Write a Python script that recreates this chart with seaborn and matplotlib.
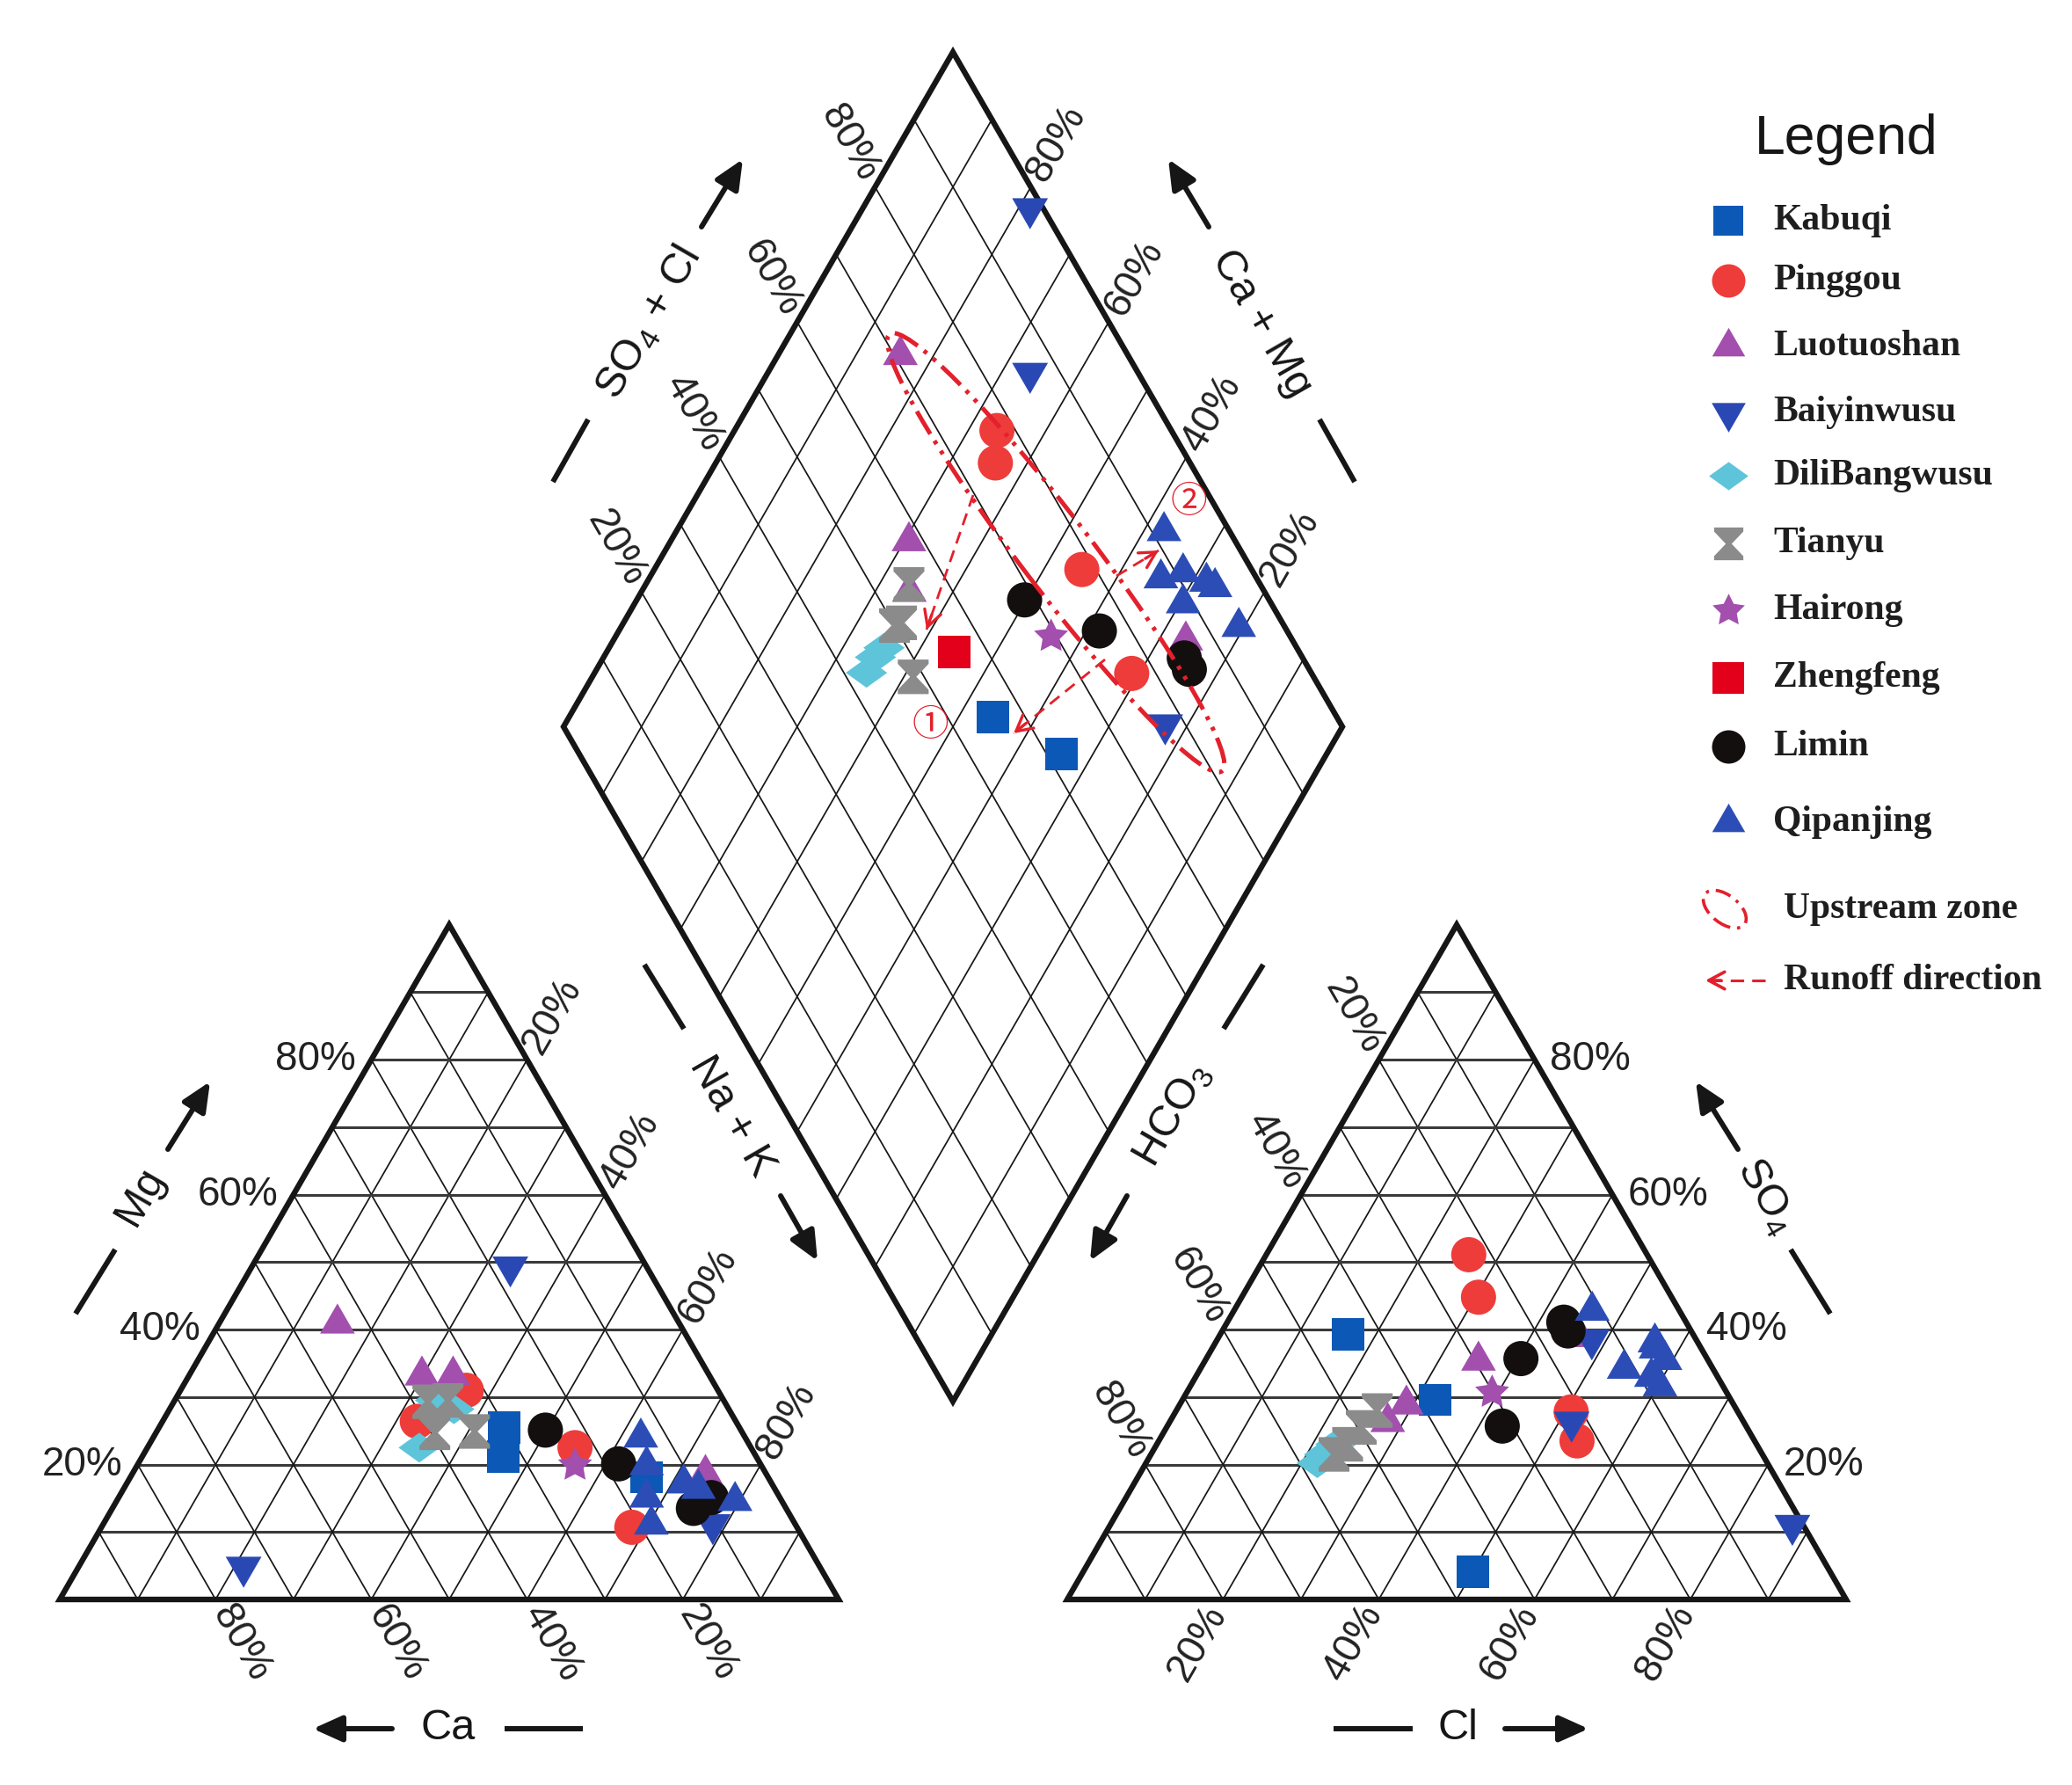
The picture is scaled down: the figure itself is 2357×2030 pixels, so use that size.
import numpy as np
import pandas as pd
import matplotlib
matplotlib.use("Agg")
import matplotlib.pyplot as plt
from matplotlib.path import Path
from matplotlib.patches import Ellipse, FancyArrowPatch
import seaborn as sns

# ---------------------------------------------------------------- data
groups = ["Kabuqi", "Pinggou", "Luotuoshan", "Baiyinwusu", "DiliBangwusu",
          "Tianyu", "Hairong", "Zhengfeng", "Limin", "Qipanjing"]

# cation triangle (percent of meq)
cation_site = (["Kabuqi"] * 3 + ["Pinggou"] * 4 + ["Luotuoshan"] * 4 + ["Baiyinwusu"] * 3
               + ["DiliBangwusu"] * 3 + ["Tianyu"] * 4 + ["Hairong"] * 1
               + ["Limin"] * 4 + ["Qipanjing"] * 7)
cation_mg = [25.5, 21.2, 18.1,
             31.0, 26.4, 22.5, 10.7,
             40.9, 33.2, 33.2, 18.6,
             49.3, 4.8, 11.1,
             28.2, 22.5, 29.5,
             29.3, 29.5, 24.7, 24.9,
             19.9,
             25.1, 20.1, 13.5, 15.1,
             24.0, 19.9, 15.1, 11.1, 17.2, 16.4, 14.6]
cation_nak = [44.3, 46.3, 66.3,
              36.7, 32.7, 54.9, 68.1,
              15.2, 29.9, 33.9, 73.6,
              33.2, 21.2, 78.3,
              36.5, 34.9, 33.5,
              32.6, 35.1, 35.8, 40.8,
              56.2,
              49.8, 61.7, 74.6, 76.1,
              62.6, 65.4, 67.8, 70.4, 71.5, 73.8, 79.4]

# anion triangle (percent of meq)
anion_site = list(cation_site)
anion_so4 = [39.3, 29.6, 4.1,
             51.1, 44.8, 27.8, 23.5,
             35.4, 28.9, 26.3, 38.9,
             26.3, 38.5, 11.0,
             21.5, 23.0, 20.2,
             28.0, 25.5, 23.0, 21.5,
             30.7,
             41.1, 39.8, 35.7, 25.7,
             42.8, 38.1, 34.2, 31.6, 35.5, 37.2, 33.0]
anion_cl = [16.4, 32.4, 50.0,
            26.0, 30.4, 50.8, 53.7,
            35.1, 29.1, 28.0, 46.4,
            51.6, 48.1, 87.6,
            22.3, 23.0, 22.0,
            25.8, 25.0, 24.5, 23.5,
            39.2,
            43.2, 44.4, 40.4, 43.0,
            46.0, 56.4, 54.4, 60.3, 59.0, 57.0, 58.5]

# central diamond (SO4+Cl %, Ca+Mg %)
diamond_site = (["Kabuqi"] * 2 + ["Pinggou"] * 4 + ["Luotuoshan"] * 4 + ["Baiyinwusu"] * 3
                + ["DiliBangwusu"] * 3 + ["Tianyu"] * 4 + ["Hairong"] + ["Zhengfeng"]
                + ["Limin"] * 4 + ["Qipanjing"] * 7)
diamond_so4cl = [55.8, 61.9,
                 77.6, 75.0, 78.2, 76.9,
                 70.8, 58.1, 54.4, 86.3,
                 98.3, 86.1, 77.4,
                 42.9, 45.2, 47.0,
                 54.9, 51.1, 50.0, 48.6,
                 69.3,
                 55.7,
                 68.6, 75.9, 84.8, 84.6,
                 91.6, 87.7, 91.0, 93.3, 94.0, 88.7, 94.1]
diamond_camg = [45.6, 34.1,
                66.3, 64.1, 45.1, 31.0,
                84.3, 69.4, 65.6, 26.5,
                78.5, 66.3, 22.9,
                65.1, 65.1, 64.7,
                66.2, 64.3, 65.0, 58.8,
                44.1,
                55.4,
                50.2, 38.3, 25.4, 23.9,
                37.4, 34.3, 31.9, 28.2, 26.7, 29.6, 20.7]

tick_values = [20, 40, 60, 80]

# ---------------------------------------------------------------- style
sns.set_theme(style="white")
plt.rcParams["font.family"] = ["Liberation Sans", "DejaVu Sans"]
plt.rcParams["mathtext.fontset"] = "custom"
plt.rcParams["mathtext.rm"] = "Liberation Sans"

RED = "#e3202b"
INK = "#161616"
colors = {"Kabuqi": "#0b58b6", "Pinggou": "#ee3c3a", "Luotuoshan": "#a24fae",
          "Baiyinwusu": "#2a48b4", "DiliBangwusu": "#5ec4da", "Tianyu": "#8b8b8b",
          "Hairong": "#a24fae", "Zhengfeng": "#e2001a", "Limin": "#130f0e",
          "Qipanjing": "#2c4db6"}
hourglass = Path([(-0.5, 0.56), (0.5, 0.56), (0.5, 0.42), (0.1, 0.0), (0.5, -0.42),
                  (0.5, -0.56), (-0.5, -0.56), (-0.5, -0.42), (-0.1, 0.0),
                  (-0.5, 0.42), (-0.5, 0.56)], closed=True)
flat_diamond = Path([(-1, 0), (0, 0.72), (1, 0), (0, -0.72), (-1, 0)], closed=True)
markers = {"Kabuqi": "s", "Pinggou": "o", "Luotuoshan": (3, 0, 0),
           "Baiyinwusu": (3, 0, 180), "DiliBangwusu": flat_diamond,
           "Tianyu": hourglass, "Hairong": (5, 1, 0), "Zhengfeng": "s",
           "Limin": "o", "Qipanjing": (3, 0, 0)}
sizes = {"Kabuqi": 700, "Pinggou": 830, "Luotuoshan": 1080, "Baiyinwusu": 1150,
         "DiliBangwusu": 1150, "Tianyu": 800, "Hairong": 860, "Zhengfeng": 720,
         "Limin": 830, "Qipanjing": 1080}

# ---------------------------------------------------------------- geometry
H = np.sqrt(3) / 2
GAP = 0.2935
X0R = 1 + GAP                       # left corner of anion triangle
BX, BY = 1 + GAP / 2, GAP * H       # bottom corner of diamond


def P(px, py):
    """layout helper: reference pixel position -> axes data units"""
    return np.array([(px - 68) / 886.0, (1819 - py) / 886.0])


def cation_xy(mg, nak):
    mg, nak = np.asarray(mg) / 100, np.asarray(nak) / 100
    return nak + mg / 2, mg * H


def anion_xy(so4, cl):
    so4, cl = np.asarray(so4) / 100, np.asarray(cl) / 100
    return X0R + cl + so4 / 2, so4 * H


def diamond_xy(a, camg):
    a, camg = np.asarray(a) / 100, np.asarray(camg) / 100
    return BX + 0.5 * (a - camg), BY + H * (a + camg)


fig = plt.figure(figsize=(23.57, 20.30), dpi=100)
ax = fig.add_axes([0, 0, 1, 1])
ax.set_xlim(P(0, 0)[0], P(2357, 0)[0])
ax.set_ylim(P(0, 2030)[1], P(0, 0)[1])
ax.axis("off")

OUT_LW = 4.6
GRID_LW = 1.25
HGRID_LW = 2.2


def seg(p, q, **kw):
    ax.plot([p[0], q[0]], [p[1], q[1]], **kw)


def triangle(x0):
    A, B, C = np.array([x0, 0.0]), np.array([x0 + 1, 0.0]), np.array([x0 + 0.5, H])
    for i in range(1, 10):
        t = i / 10
        seg(A + t * (C - A), B + t * (C - B), color="#3a3a3a", lw=HGRID_LW, zorder=1)
        seg(A + t * (B - A), C + t * (B - C), color=INK, lw=GRID_LW, zorder=1)
        seg(B + t * (A - B), C + t * (A - C), color=INK, lw=GRID_LW, zorder=1)
    ax.add_patch(plt.Polygon([A, B, C], closed=True, fill=False, ec=INK, lw=OUT_LW,
                             joinstyle="miter", zorder=3))


triangle(0.0)
triangle(X0R)

Bm = np.array(diamond_xy(0, 0))
R = np.array(diamond_xy(100, 0))
T = np.array(diamond_xy(100, 100))
L = np.array(diamond_xy(0, 100))
for i in range(1, 10):
    t = i / 10
    seg(Bm + t * (L - Bm), R + t * (T - R), color=INK, lw=GRID_LW, zorder=1)
    seg(Bm + t * (R - Bm), L + t * (T - L), color=INK, lw=GRID_LW, zorder=1)
ax.add_patch(plt.Polygon([Bm, R, T, L], closed=True, fill=False, ec=INK, lw=OUT_LW,
                         joinstyle="miter", zorder=3))

# ---------------------------------------------------------------- tick labels
TFS = 33
OFF = 0.013
tk = dict(fontsize=TFS, color="#222222", va="center", rotation_mode="anchor", zorder=4)
for v in tick_values:
    t = v / 100
    lab = f"{v}%"
    # cation triangle
    p = np.array([t / 2, t * H])
    ax.text(p[0] - 0.02, p[1], lab, ha="right", **tk)                       # Mg
    p = np.array([t + (1 - t) / 2, (1 - t) * H]) + OFF * np.array([0.5, H])
    ax.text(p[0], p[1], lab, ha="left", rotation=60, **tk)                 # Na+K
    p = np.array([1 - t, 0]) + OFF * np.array([0.5, -H])
    ax.text(p[0], p[1], lab, ha="left", rotation=-60, **tk)                # Ca
    # anion triangle
    p = np.array([X0R + t, 0]) + OFF * np.array([-0.5, -H])
    ax.text(p[0], p[1], lab, ha="right", rotation=60, **tk)                # Cl
    p = np.array([X0R + (1 - t) / 2, (1 - t) * H]) + OFF * np.array([-0.5, H])
    ax.text(p[0], p[1], lab, ha="right", rotation=-60, **tk)               # HCO3
    p = np.array([X0R + 1 - t / 2, t * H])
    ax.text(p[0] + 0.02, p[1], lab, ha="left", **tk)                       # SO4
    # diamond
    p = np.array(diamond_xy(v, 100)) + OFF * np.array([-0.5, H])
    ax.text(p[0], p[1], lab, ha="right", rotation=-60, **tk)               # SO4+Cl
    p = np.array(diamond_xy(100, v)) + OFF * np.array([0.5, H])
    ax.text(p[0], p[1], lab, ha="left", rotation=60, **tk)                 # Ca+Mg

# ---------------------------------------------------------------- axis titles
AFS = 35
titles = [
    ("Mg", (159, 1361), 60, (86, 1494), (131, 1421), (191, 1307), (239, 1230)),
    ("Ca", (510, 1966), 0, (574, 1966), (663, 1966), (446, 1966), (356, 1966)),
    ("Cl", (1658, 1966), 0, (1517, 1966), (1607, 1966), (1712, 1966), (1807, 1966)),
    ("SO$_\\mathregular{4}$", (2009, 1361), -60, (2082, 1494), (2037, 1421),
     (1977, 1307), (1929, 1230)),
    ("Na + K", (832, 1270), -60, (733, 1097), (778, 1170), (888, 1360), (930, 1434)),
    ("HCO$_\\mathregular{3}$", (1334, 1268), 60, (1437, 1097), (1392, 1170),
     (1282, 1360), (1240, 1434)),
    ("SO$_\\mathregular{4}$ + Cl", (738, 368), 60, (629, 548), (669, 477),
     (798, 258), (845, 181)),
    ("Ca + Mg", (1435, 368), -60, (1541, 548), (1501, 477), (1375, 258), (1329, 181)),
]
for txt, c, rot, d0, d1, a0, a1 in titles:
    pc = P(*c)
    ax.text(pc[0], pc[1], txt, fontsize=AFS, color=INK, ha="center", va="center",
            rotation=rot, rotation_mode="anchor", zorder=4)
    seg(P(*d0), P(*d1), color=INK, lw=4.3, solid_capstyle="butt", zorder=4)
    ax.add_patch(FancyArrowPatch(P(*a0), P(*a1),
                                 arrowstyle="-|>,head_length=20,head_width=9",
                                 mutation_scale=1, lw=4.3, color=INK,
                                 shrinkA=0, shrinkB=0, zorder=4))

# ---------------------------------------------------------------- data points
panels = [
    pd.DataFrame({"site": cation_site,
                  "x": cation_xy(cation_mg, cation_nak)[0],
                  "y": cation_xy(cation_mg, cation_nak)[1]}),
    pd.DataFrame({"site": anion_site,
                  "x": anion_xy(anion_so4, anion_cl)[0],
                  "y": anion_xy(anion_so4, anion_cl)[1]}),
    pd.DataFrame({"site": diamond_site,
                  "x": diamond_xy(diamond_so4cl, diamond_camg)[0],
                  "y": diamond_xy(diamond_so4cl, diamond_camg)[1]}),
]
for df in panels:
    for site in groups:
        sub = df[df["site"] == site]
        if sub.empty:
            continue
        sns.scatterplot(data=sub, x="x", y="y", marker=markers[site], s=sizes[site],
                        color=colors[site], linewidth=0, edgecolor="none",
                        legend=False, ax=ax, zorder=6)
ax.set_xlabel("")
ax.set_ylabel("")

# ---------------------------------------------------------------- upstream zone / runoff
c0, c1 = P(1012, 380), P(1390, 877)
centre = (c0 + c1) / 2
major = np.hypot(*(c1 - c0))
angle = np.degrees(np.arctan2(c1[1] - c0[1], c1[0] - c0[0]))
ax.add_patch(Ellipse(centre, major, 0.092, angle=angle, fill=False, ec=RED, lw=3.6,
                     ls=(0, (6, 1.8, 0.9, 1.8, 0.9, 1.8)), zorder=7))


def runoff_arrow(p0, p1, lw=2.0):
    p0, p1 = np.asarray(p0), np.asarray(p1)
    seg(p0, p1, color=RED, lw=lw, ls=(0, (5, 3.0)), zorder=7)
    d = (p1 - p0) / np.hypot(*(p1 - p0))
    ax.add_patch(FancyArrowPatch(p1 - 0.02 * d, p1,
                                 arrowstyle="->,head_length=13,head_width=7",
                                 mutation_scale=1, lw=lw + 0.4, color=RED,
                                 shrinkA=0, shrinkB=0, zorder=7))


runoff_arrow(P(1107, 563), P(1054, 716))
runoff_arrow(P(1257, 750), P(1153, 834))
runoff_arrow(P(1270, 655), P(1318, 626))
circ = ["Noto Sans CJK SC", "DejaVu Sans"]
for s, (px, py) in [("\u2460", (1058, 825)), ("\u2461", (1352, 572))]:
    q = P(px, py)
    ax.text(q[0], q[1], s, family=circ, fontsize=30, color=RED, ha="center",
            va="center", zorder=8)

# ---------------------------------------------------------------- legend
q = P(2100, 158)
ax.text(q[0], q[1], "Legend", fontsize=45, color=INK, ha="center", va="center")
leg_rows = [251, 319, 394, 469, 541, 618, 694, 771, 849, 935]
LFS = 30
serif = ["Liberation Serif", "DejaVu Serif"]
for site, py in zip(groups, leg_rows):
    m = P(1966, py)
    ax.scatter([m[0]], [m[1]], marker=markers[site], s=sizes[site] * 0.9,
               color=colors[site], linewidths=0, zorder=6)
    t = P(2017, py)
    ax.text(t[0], t[1], site, family=serif, fontsize=LFS, fontweight="bold",
            color="#1e1e1e", ha="left", va="center")
e = P(1962, 1034)
ax.add_patch(Ellipse(e, 0.064, 0.036, angle=-38, fill=False, ec=RED, lw=2.6,
                     ls=(0, (5, 2.2, 1, 2.2)), zorder=7))
t = P(2029, 1034)
ax.text(t[0], t[1], "Upstream zone", family=serif, fontsize=LFS, fontweight="bold",
        color="#1e1e1e", ha="left", va="center")
runoff_arrow(P(2008, 1115), P(1940, 1115), lw=2.2)
t = P(2029, 1115)
ax.text(t[0], t[1], "Runoff direction", family=serif, fontsize=LFS, fontweight="bold",
        color="#1e1e1e", ha="left", va="center")

fig.savefig("out.png", dpi=100, facecolor="white")
